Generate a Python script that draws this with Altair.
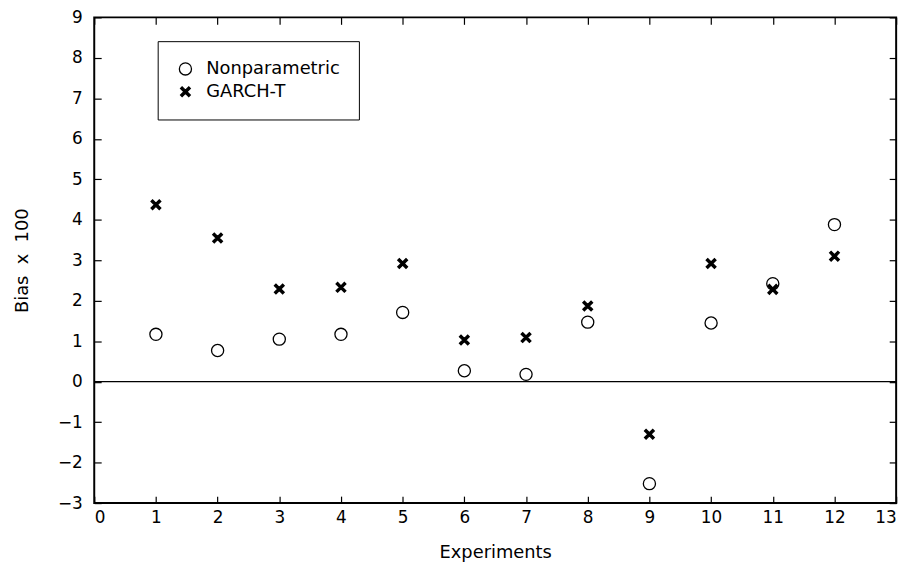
import altair as alt
import pandas as pd

experiments = list(range(1, 13))
nonparametric = [1.17, 0.77, 1.05, 1.17, 1.71, 0.27, 0.18, 1.47, -2.52, 1.45, 2.42, 3.88]
garch_t = [4.37, 3.55, 2.29, 2.33, 2.92, 1.03, 1.09, 1.87, -1.30, 2.92, 2.28, 3.10]
series_names = ["Nonparametric", "GARCH-T"]
x_ticks = list(range(0, 14))
y_ticks = list(range(-3, 10))
zero_line = [0]

df = pd.DataFrame({
    "Experiment": experiments * 2,
    "Bias": nonparametric + garch_t,
    "Series": [series_names[0]] * len(experiments) + [series_names[1]] * len(experiments),
})
zero_df = pd.DataFrame({"y": zero_line})

FONT = "DejaVu Sans"
X_PATH = ("M-0.8,-0.55L-0.55,-0.8L0,-0.25L0.55,-0.8L0.8,-0.55L0.25,0L0.8,0.55"
          "L0.55,0.8L0,0.25L-0.55,0.8L-0.8,0.55L-0.25,0Z")

xscale = alt.Scale(domain=[0, 13], nice=False, zero=False)
yscale = alt.Scale(domain=[-3, 9], nice=False, zero=False)

legend = alt.Legend(
    title=None, orient="none", legendX=64, legendY=24,
    strokeColor="black", padding=19, rowPadding=5, symbolSize=150,
    labelFont=FONT, labelFontSize=18, labelColor="black", labelOffset=12,
    symbolStrokeWidth=1.3, fillColor="white",
)

points = alt.Chart(df).mark_point(
    filled=True, strokeWidth=1.3, size=150, opacity=1
).encode(
    x=alt.X("Experiment:Q", scale=xscale,
            axis=alt.Axis(values=x_ticks, orient="bottom", offset=-7, tickSize=7,
                          domain=False, grid=False, labelPadding=7,
                          title="Experiments", titlePadding=18)),
    y=alt.Y("Bias:Q", scale=yscale,
            axis=alt.Axis(values=y_ticks, orient="left", offset=-7, tickSize=7,
                          domain=False, grid=False, labelPadding=12,
                          title="Bias\u00a0\u00a0x\u00a0\u00a0100", titlePadding=26)),
    shape=alt.Shape("Series:N", scale=alt.Scale(domain=series_names, range=["circle", X_PATH]),
                    legend=legend),
    fill=alt.Fill("Series:N", scale=alt.Scale(domain=series_names, range=["white", "black"]),
                  legend=legend),
    stroke=alt.Stroke("Series:N", scale=alt.Scale(domain=series_names, range=["black", "black"]),
                      legend=legend),
)

zero = alt.Chart(zero_df).mark_rule(color="black", strokeWidth=1.3).encode(
    y=alt.Y("y:Q", scale=yscale, axis=None)
)

mirror = alt.Chart(df).mark_point(opacity=0).encode(
    x=alt.X("Experiment:Q", scale=xscale,
            axis=alt.Axis(values=x_ticks, orient="top", offset=-7, tickSize=7,
                          domain=False, grid=False, labels=False, title=None)),
    y=alt.Y("Bias:Q", scale=yscale,
            axis=alt.Axis(values=y_ticks, orient="right", offset=-7, tickSize=7,
                          domain=False, grid=False, labels=False, title=None)),
)

chart = alt.layer(zero, mirror, points).resolve_axis(
    x="independent", y="independent"
).properties(
    width=809, height=490,
    autosize=alt.AutoSizeParams(type="none"),
    padding={"left": 87, "top": 7, "right": 17, "bottom": 60},
    background="white",
).configure_view(
    stroke="black", strokeWidth=2
).configure_axis(
    labelFont=FONT, labelFontSize=17, labelColor="black",
    titleFont=FONT, titleFontSize=18, titleFontWeight="normal", titleColor="black",
    tickColor="black", tickWidth=1.2,
)

chart.save("out.html", embed_options={"renderer": "svg", "actions": False})
